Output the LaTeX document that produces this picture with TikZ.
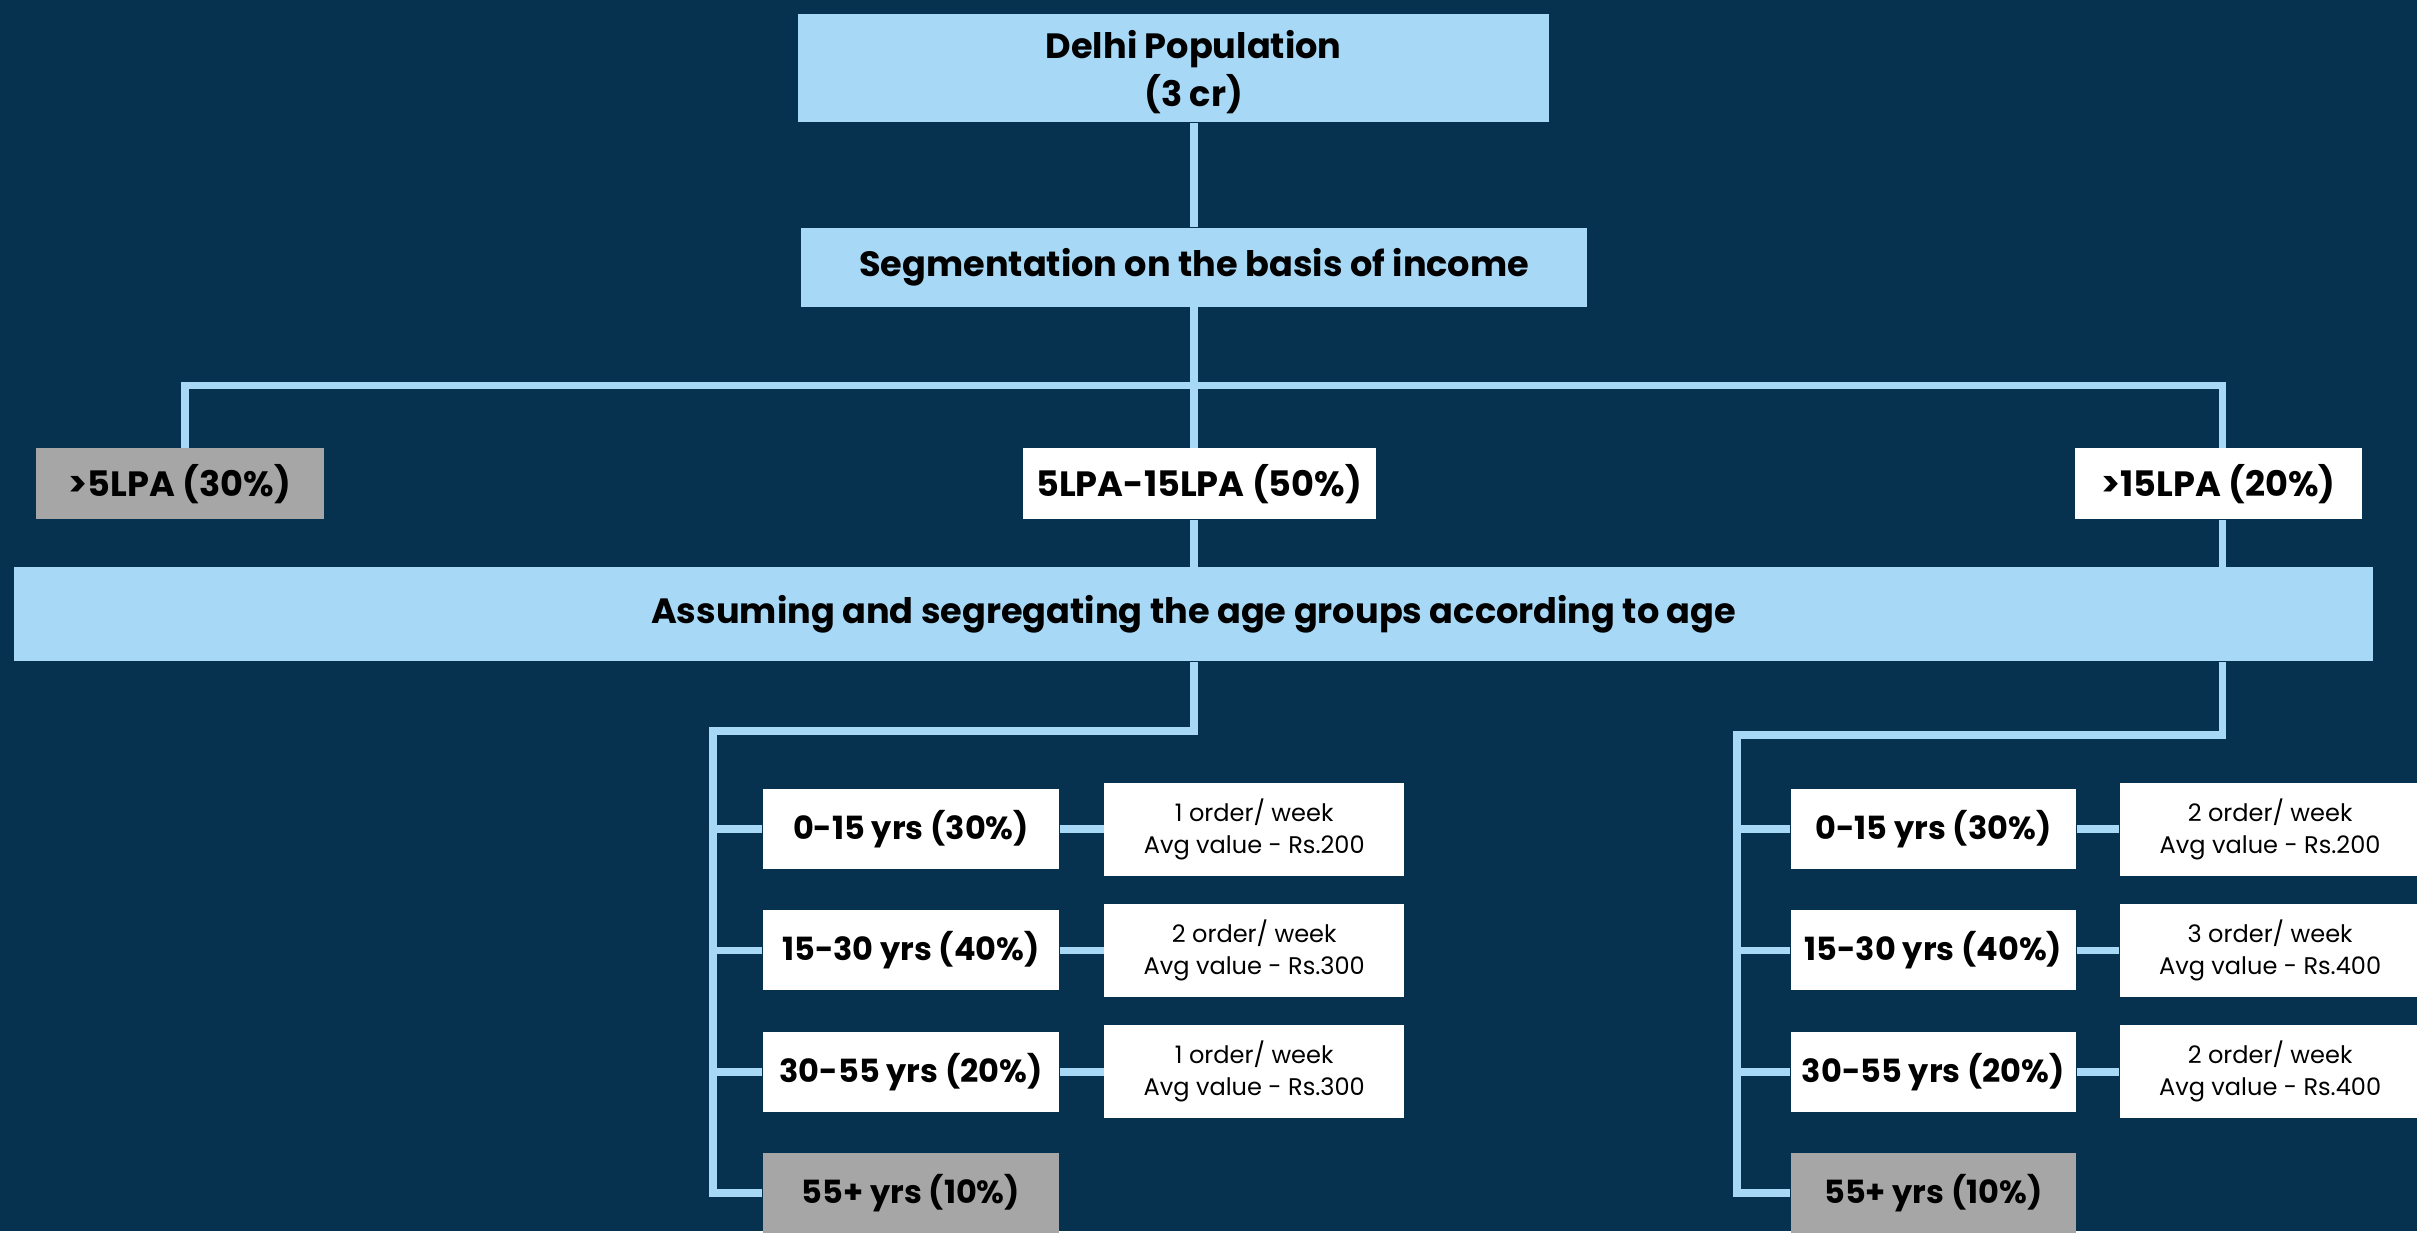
\documentclass[tikz,border=0pt]{standalone}
\usepackage{fontspec}
\setmainfont{Poppins}
\usetikzlibrary{positioning}
\definecolor{navy}{HTML}{06314F}
\definecolor{skyblue}{HTML}{A7D8F6}
\definecolor{boxgray}{HTML}{A6A6A6}
\tikzset{
	box/.style={inner sep=0pt, align=center, font=\bfseries\fontsize{10}{13.7}\selectfont}
}
\tikzset{
	bluebox/.style={box, fill=skyblue},
	whitebox/.style={box, fill=white},
	graybox/.style={box, fill=boxgray},
	ageitem/.style={minimum width=2.96cm, minimum height=0.8cm, font=\bfseries\fontsize{9.1}{11}\selectfont},
	ordertext/.style={whitebox, font=\fontsize{6.85}{9.1}\selectfont, minimum width=3cm, minimum height=0.93cm},
	link/.style={draw=skyblue, line width=2.2pt}
}
\newcommand{\orders}[2]{#1 order/ week\\Avg value - Rs.#2}

\begin{document}
\begin{tikzpicture}[x=0.01cm, y=-0.01cm]
      % background
      \fill[navy] (0,0) rectangle (2420,1232);
      % population and income split
      \node[bluebox, minimum width=7.51cm, minimum height=1.08cm] (pop) at (1175,68) {};
      \node[box] (poptext) at (1195,72) {Delhi Population\\(3 cr)};
      \node[bluebox, minimum width=7.87cm, minimum height=0.79cm] (seg) at (1195.5,267.5) {Segmentation on the basis of income};
      \node[graybox, minimum width=2.88cm, minimum height=0.71cm] (low) at (180,484.5) {>5LPA (30\%)};
      \node[whitebox, minimum width=3.53cm, minimum height=0.71cm] (mid) at (1200.5,484.5) {5LPA-15LPA (50\%)};
      \node[whitebox, minimum width=2.88cm, minimum height=0.71cm] (high) at (2221,484.5) {>15LPA (20\%)};
      \node[bluebox, minimum width=23.6cm, minimum height=0.94cm] (ages) at (1195,615) {Assuming and segregating the age groups according to age};
      % age groups, middle income
      \node[whitebox, ageitem] (l1) at (912,830) {0-15 yrs (30\%)};
      \node[whitebox, ageitem, below=0.4cm of l1] (l2) {15-30 yrs (40\%)};
      \node[whitebox, ageitem, below=0.4cm of l2] (l3) {30-55 yrs (20\%)};
      \node[graybox, ageitem, below=0.4cm of l3] (l4) {55+ yrs (10\%)};
      \node[ordertext, right=0.44cm of l1] (lo1) {\orders{1}{200}};
      \node[ordertext, right=0.44cm of l2] (lo2) {\orders{2}{300}};
      \node[ordertext, right=0.44cm of l3] (lo3) {\orders{1}{300}};
      % age groups, high income
      \node[whitebox, ageitem, minimum width=2.85cm] (r1) at (1935.5,830) {0-15 yrs (30\%)};
      \node[whitebox, ageitem, minimum width=2.85cm, below=0.4cm of r1] (r2) {15-30 yrs (40\%)};
      \node[whitebox, ageitem, minimum width=2.85cm, below=0.4cm of r2] (r3) {30-55 yrs (20\%)};
      \node[graybox, ageitem, minimum width=2.85cm, below=0.4cm of r3] (r4) {55+ yrs (10\%)};
      \node[ordertext, right=0.43cm of r1] (ro1) {\orders{2}{200}};
      \node[ordertext, right=0.43cm of r2] (ro2) {\orders{3}{400}};
      \node[ordertext, right=0.43cm of r3] (ro3) {\orders{2}{400}};
      % links, top part
      \coordinate (ldrop) at (185,386);
      \coordinate (rdrop) at (2225,386);
      \draw[link] (pop.south -| seg.north) -- (seg.north);
      \draw[link] (seg.south) -- (seg.south |- mid.north);
      \draw[link] (ldrop |- low.north) -- (ldrop) -- (rdrop) -- (rdrop |- high.north);
      \draw[link] (mid.south -| seg.south) -- (ages.north -| seg.south);
      \draw[link] (high.south -| rdrop) -- (ages.north -| rdrop);
      % links, left tree
      \coordinate (lturn) at (1195,732);
      \coordinate (ltrunk) at (714,732);
      \draw[link] (ages.south -| lturn) -- (lturn) -- (ltrunk) -- (ltrunk |- l4.west) -- (l4.west);
      \foreach \i in {1,2,3} {
        \draw[link] (ltrunk |- l\i.west) -- (l\i.west);
        \draw[link] (l\i.east) -- (lo\i.west);
      }
      % links, right tree
      \coordinate (rturn) at (2225,736);
      \coordinate (rtrunk) at (1739,736);
      \draw[link] (ages.south -| rturn) -- (rturn) -- (rtrunk) -- (rtrunk |- r4.west) -- (r4.west);
      \foreach \i in {1,2,3} {
        \draw[link] (rtrunk |- r\i.west) -- (r\i.west);
        \draw[link] (r\i.east) -- (ro\i.west);
      }
    \end{tikzpicture}
\end{document}
